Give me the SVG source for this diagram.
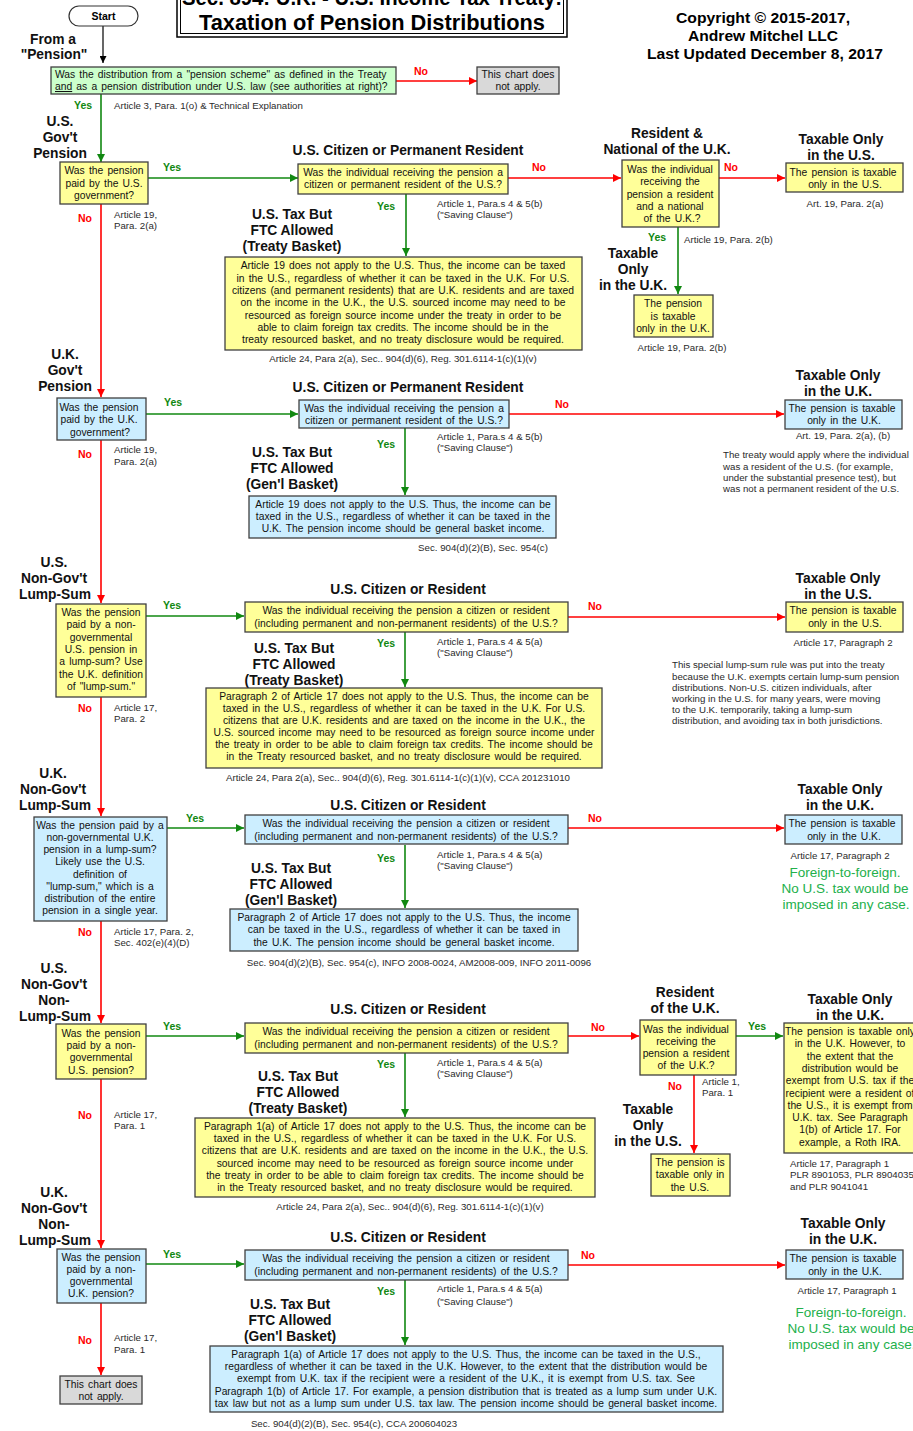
<svg xmlns="http://www.w3.org/2000/svg" width="913" height="1431" viewBox="0 0 913 1431">
<style>
text{font-family:"Liberation Sans",Arial,sans-serif}
.b{font-size:10.3px;word-spacing:1.3px;fill:#111;text-anchor:middle}
.bl{font-size:10.3px;word-spacing:1.3px;fill:#111}
.h{font-size:13.8px;font-weight:bold;fill:#111;text-anchor:middle}
.n{font-size:9.7px;fill:#2a2a2a}
.nc{font-size:9.7px;fill:#2a2a2a;text-anchor:middle}
.yes{font-size:10.5px;font-weight:bold;fill:#118811}
.no{font-size:10.5px;font-weight:bold;fill:#ff0000}
.ff{font-size:13.5px;fill:#22b04b;text-anchor:middle}
.yb{fill:#ffff99;stroke:#404040;stroke-width:1.3}
.bb{fill:#cceeff;stroke:#404040;stroke-width:1.3}
.gb{fill:#ccffcc;stroke:#404040;stroke-width:1.3}
.xb{fill:#d9d9d9;stroke:#404040;stroke-width:1.3}
.gl{stroke:#118811;stroke-width:1.6;fill:none;marker-end:url(#ag)}
.rl{stroke:#ff0000;stroke-width:1.6;fill:none;marker-end:url(#ar)}
.kl{stroke:#000;stroke-width:1.2;fill:none;marker-end:url(#ak)}
</style>
<defs>
<marker id="ag" viewBox="0 0 10 10" refX="10" refY="5" markerWidth="8" markerHeight="8" markerUnits="userSpaceOnUse" orient="auto"><path d="M0,0 L10,5 L0,10 z" fill="#118811"/></marker>
<marker id="ar" viewBox="0 0 10 10" refX="10" refY="5" markerWidth="8" markerHeight="8" markerUnits="userSpaceOnUse" orient="auto"><path d="M0,0 L10,5 L0,10 z" fill="#ff0000"/></marker>
<marker id="ak" viewBox="0 0 10 10" refX="10" refY="5" markerWidth="7" markerHeight="7" markerUnits="userSpaceOnUse" orient="auto"><path d="M0,0 L10,5 L0,10 z" fill="#000"/></marker>
</defs>
<rect width="913" height="1431" fill="#fff"/>

<g id="title">
<rect x="177" y="-10" width="390" height="47" fill="#fff" stroke="#000" stroke-width="1.5"/>
<rect x="180.5" y="-10" width="383" height="43.5" fill="none" stroke="#000" stroke-width="1"/>
<text x="372" y="5" text-anchor="middle" font-size="22" font-weight="bold" textLength="380" lengthAdjust="spacingAndGlyphs">Sec. 894: U.K. - U.S. Income Tax Treaty:</text>
<text x="372" y="30" text-anchor="middle" font-size="22" font-weight="bold" textLength="346" lengthAdjust="spacingAndGlyphs">Taxation of Pension Distributions</text>
</g>
<g id="copyright">
<text x="763" y="23" text-anchor="middle" font-size="14.5" font-weight="bold" textLength="174" lengthAdjust="spacingAndGlyphs">Copyright © 2015-2017,</text>
<text x="763" y="41" text-anchor="middle" font-size="14.5" font-weight="bold" textLength="150" lengthAdjust="spacingAndGlyphs">Andrew Mitchel LLC</text>
<text x="765" y="59" text-anchor="middle" font-size="14.5" font-weight="bold" textLength="236" lengthAdjust="spacingAndGlyphs">Last Updated December 8, 2017</text>
</g>

<g id="connectors">
<line class="kl" x1="103" y1="26" x2="103" y2="63"/>
<line class="rl" x1="396" y1="81" x2="477" y2="81"/>
<line class="gl" x1="101" y1="94" x2="101" y2="162"/>
<line class="gl" x1="148" y1="178" x2="298" y2="178"/>
<line class="rl" x1="508" y1="178" x2="621" y2="178"/>
<line class="rl" x1="719" y1="178" x2="785" y2="178"/>
<line class="gl" x1="678" y1="227" x2="678" y2="294"/>
<line class="gl" x1="406" y1="194" x2="406" y2="256"/>
<line class="rl" x1="101" y1="204" x2="101" y2="397"/>
<line class="gl" x1="146" y1="414" x2="298" y2="414"/>
<line class="rl" x1="509" y1="414" x2="784" y2="414"/>
<line class="gl" x1="405" y1="428" x2="405" y2="495"/>
<line class="rl" x1="101" y1="440" x2="101" y2="603"/>
<line class="gl" x1="146" y1="616" x2="244" y2="616"/>
<line class="rl" x1="568" y1="617" x2="785" y2="617"/>
<line class="gl" x1="405" y1="632" x2="405" y2="687"/>
<line class="rl" x1="101" y1="697" x2="101" y2="816"/>
<line class="gl" x1="167" y1="828" x2="244" y2="828"/>
<line class="rl" x1="568" y1="828" x2="784" y2="828"/>
<line class="gl" x1="405" y1="845" x2="405" y2="908"/>
<line class="rl" x1="101" y1="921" x2="101" y2="1023"/>
<line class="gl" x1="146" y1="1036" x2="244" y2="1036"/>
<line class="rl" x1="568" y1="1036" x2="639" y2="1036"/>
<line class="gl" x1="736" y1="1036" x2="783" y2="1036"/>
<line class="rl" x1="694" y1="1075" x2="694" y2="1153"/>
<line class="gl" x1="405" y1="1053" x2="405" y2="1117"/>
<line class="rl" x1="101" y1="1079" x2="101" y2="1248"/>
<line class="gl" x1="146" y1="1264" x2="244" y2="1264"/>
<line class="rl" x1="568" y1="1265" x2="785" y2="1265"/>
<line class="gl" x1="405" y1="1280" x2="405" y2="1345"/>
<line class="rl" x1="101" y1="1303" x2="101" y2="1375"/>
</g>

<g id="labels">
<text class="no" x="414" y="75">No</text>
<text class="yes" x="74" y="109">Yes</text>
<text class="n" x="114" y="109">Article 3, Para. 1(o) &amp; Technical Explanation</text>
<text class="yes" x="163" y="171">Yes</text>
<text class="no" x="532" y="171">No</text>
<text class="no" x="724" y="171">No</text>
<text class="yes" x="648" y="241">Yes</text>
<text class="n" x="684" y="243">Article 19, Para. 2(b)</text>
<text class="yes" x="377" y="210">Yes</text>
<text class="n" x="437" y="207">Article 1, Para.s 4 &amp; 5(b)</text>
<text class="n" x="437" y="218">("Saving Clause")</text>
<text class="no" x="78" y="222">No</text>
<text class="n" x="114" y="218">Article 19,</text>
<text class="n" x="114" y="229">Para. 2(a)</text>
<text class="nc" x="403" y="362">Article 24, Para 2(a), Sec.. 904(d)(6), Reg. 301.6114-1(c)(1)(v)</text>
<text class="yes" x="164" y="406">Yes</text>
<text class="no" x="555" y="408">No</text>
<text class="no" x="78" y="458">No</text>
<text class="n" x="114" y="453">Article 19,</text>
<text class="n" x="114" y="465">Para. 2(a)</text>
<text class="yes" x="377" y="448">Yes</text>
<text class="n" x="437" y="440">Article 1, Para.s 4 &amp; 5(b)</text>
<text class="n" x="437" y="451">("Saving Clause")</text>
<text class="nc" x="483" y="551">Sec. 904(d)(2)(B), Sec. 954(c)</text>
<text class="yes" x="163" y="609">Yes</text>
<text class="no" x="588" y="610">No</text>
<text class="yes" x="377" y="647">Yes</text>
<text class="n" x="437" y="645">Article 1, Para.s 4 &amp; 5(a)</text>
<text class="n" x="437" y="656">("Saving Clause")</text>
<text class="nc" x="398" y="781">Article 24, Para 2(a), Sec.. 904(d)(6), Reg. 301.6114-1(c)(1)(v), CCA 201231010</text>
<text class="no" x="78" y="712">No</text>
<text class="n" x="114" y="711">Article 17,</text>
<text class="n" x="114" y="722">Para. 2</text>
<text class="yes" x="186" y="822">Yes</text>
<text class="no" x="588" y="822">No</text>
<text class="yes" x="377" y="862">Yes</text>
<text class="n" x="437" y="858">Article 1, Para.s 4 &amp; 5(a)</text>
<text class="n" x="437" y="869">("Saving Clause")</text>
<text class="nc" x="419" y="966">Sec. 904(d)(2)(B), Sec. 954(c), INFO 2008-0024, AM2008-009, INFO 2011-0096</text>
<text class="no" x="78" y="936">No</text>
<text class="n" x="114" y="935">Article 17, Para. 2,</text>
<text class="n" x="114" y="946">Sec. 402(e)(4)(D)</text>
<text class="yes" x="163" y="1030">Yes</text>
<text class="no" x="591" y="1031">No</text>
<text class="yes" x="748" y="1030">Yes</text>
<text class="no" x="668" y="1090">No</text>
<text class="n" x="702" y="1085">Article 1,</text>
<text class="n" x="702" y="1096">Para. 1</text>
<text class="yes" x="377" y="1068">Yes</text>
<text class="n" x="437" y="1066">Article 1, Para.s 4 &amp; 5(a)</text>
<text class="n" x="437" y="1077">("Saving Clause")</text>
<text class="nc" x="410" y="1210">Article 24, Para 2(a), Sec.. 904(d)(6), Reg. 301.6114-1(c)(1)(v)</text>
<text class="no" x="78" y="1119">No</text>
<text class="n" x="114" y="1118">Article 17,</text>
<text class="n" x="114" y="1129">Para. 1</text>
<text class="yes" x="163" y="1258">Yes</text>
<text class="no" x="581" y="1259">No</text>
<text class="yes" x="377" y="1295">Yes</text>
<text class="n" x="437" y="1292">Article 1, Para.s 4 &amp; 5(a)</text>
<text class="n" x="437" y="1305">("Saving Clause")</text>
<text class="nc" x="354" y="1427">Sec. 904(d)(2)(B), Sec. 954(c), CCA 200604023</text>
<text class="no" x="78" y="1344">No</text>
<text class="n" x="114" y="1341">Article 17,</text>
<text class="n" x="114" y="1353">Para. 1</text>
</g>

<g id="start">
<rect x="69" y="6" width="69" height="20" rx="10" fill="#fff" stroke="#333" stroke-width="1.2"/>
<text x="103.5" y="20" text-anchor="middle" font-size="10.5" font-weight="bold">Start</text>
<text class="h" x="53" y="44">From a</text>
<text class="h" x="54" y="59">"Pension"</text>
</g>

<g id="q-pension-scheme">
<rect class="gb" x="51" y="67" width="345" height="27"/>
<text class="bl" x="55" y="78">Was the distribution from a "pension scheme" as defined in the Treaty</text>
<text class="bl" x="55" y="90"><tspan text-decoration="underline">and</tspan> as a pension distribution under U.S. law (see authorities at right)?</text>
</g>
<g id="na-1">
<rect class="xb" x="477" y="67" width="82" height="27"/>
<text class="b" x="518" y="78">This chart does</text>
<text class="b" x="518" y="90">not apply.</text>
</g>

<g id="q-us-gov">
<text class="h" x="60" y="126">U.S.</text>
<text class="h" x="60" y="142">Gov't</text>
<text class="h" x="60" y="158">Pension</text>
<rect class="yb" x="60" y="162" width="88" height="42"/>
<text class="b" x="104" y="174">Was the pension</text>
<text class="b" x="104" y="187">paid by the U.S.</text>
<text class="b" x="104" y="199">government?</text>
</g>
<g id="q-uscit-1">
<text class="h" x="408" y="155">U.S. Citizen or Permanent Resident</text>
<rect class="yb" x="298" y="164" width="210" height="30"/>
<text class="b" x="403" y="176">Was the individual receiving the pension a</text>
<text class="b" x="403" y="188">citizen or permanent resident of the U.S.?</text>
</g>
<g id="q-uk-resnat">
<text class="h" x="667" y="138">Resident &amp;</text>
<text class="h" x="667" y="154">National of the U.K.</text>
<rect class="yb" x="622" y="160" width="97" height="67"/>
<text class="b" x="670" y="173">Was the individual</text>
<text class="b" x="670" y="185">receiving the</text>
<text class="b" x="670" y="198">pension a resident</text>
<text class="b" x="670" y="210">and a national</text>
<text class="b" x="672" y="222">of the U.K.?</text>
</g>
<g id="r-us-only-1">
<text class="h" x="841" y="144">Taxable Only</text>
<text class="h" x="841" y="160">in the U.S.</text>
<rect class="yb" x="786" y="163" width="117" height="29"/>
<text class="b" x="843" y="176">The pension is taxable</text>
<text class="b" x="845" y="188">only in the U.S.</text>
<text class="nc" x="845" y="207">Art. 19, Para. 2(a)</text>
</g>
<g id="r-uk-only-1">
<text class="h" x="633" y="258">Taxable</text>
<text class="h" x="633" y="274">Only</text>
<text class="h" x="633" y="290">in the U.K.</text>
<rect class="yb" x="634" y="295" width="79" height="42"/>
<text class="b" x="673" y="307">The pension</text>
<text class="b" x="673" y="320">is taxable</text>
<text class="b" x="673" y="332">only in the U.K.</text>
<text class="nc" x="682" y="351">Article 19, Para. 2(b)</text>
</g>
<g id="r-ftc-1">
<text class="h" x="292" y="219">U.S. Tax But</text>
<text class="h" x="292" y="235">FTC Allowed</text>
<text class="h" x="292" y="251">(Treaty Basket)</text>
<rect class="yb" x="225" y="257" width="357" height="93"/>
<text class="b" x="403" y="269">Article 19 does not apply to the U.S.  Thus, the income can be taxed</text>
<text class="b" x="403" y="282">in the U.S., regardless of whether it can be taxed in the U.K.  For U.S.</text>
<text class="b" x="403" y="294">citizens (and permanent residents) that are U.K. residents and are taxed</text>
<text class="b" x="403" y="306">on the income in the U.K., the U.S. sourced income may need to be</text>
<text class="b" x="403" y="319">resourced as foreign source income under the treaty in order to be</text>
<text class="b" x="403" y="331">able to claim foreign tax credits.  The income should be in the</text>
<text class="b" x="403" y="343">treaty resourced basket, and no treaty disclosure would be required.</text>
</g>

<g id="q-uk-gov">
<text class="h" x="65" y="359">U.K.</text>
<text class="h" x="65" y="375">Gov't</text>
<text class="h" x="65" y="391">Pension</text>
<rect class="bb" x="57" y="398" width="89" height="42"/>
<text class="b" x="99" y="411">Was the pension</text>
<text class="b" x="99" y="423">paid by the U.K.</text>
<text class="b" x="100" y="436">government?</text>
</g>
<g id="q-uscit-2">
<text class="h" x="408" y="392">U.S. Citizen or Permanent Resident</text>
<rect class="bb" x="299" y="400" width="210" height="28"/>
<text class="b" x="404" y="412">Was the individual receiving the pension a</text>
<text class="b" x="404" y="424">citizen or permanent resident of the U.S.?</text>
</g>
<g id="r-uk-only-2">
<text class="h" x="838" y="380">Taxable Only</text>
<text class="h" x="838" y="396">in the U.K.</text>
<rect class="bb" x="785" y="400" width="117" height="29"/>
<text class="b" x="842" y="412">The pension is taxable</text>
<text class="b" x="844" y="424">only in the U.K.</text>
<text class="nc" x="843" y="439">Art. 19, Para. 2(a), (b)</text>
<text class="n" x="723" y="458">The treaty would apply where the individual</text>
<text class="n" x="723" y="470">was a resident of the U.S. (for example,</text>
<text class="n" x="723" y="481">under the substantial presence test), but</text>
<text class="n" x="723" y="492">was not a permanent resident of the U.S.</text>
</g>
<g id="r-ftc-2">
<text class="h" x="292" y="457">U.S. Tax But</text>
<text class="h" x="292" y="473">FTC Allowed</text>
<text class="h" x="292" y="489">(Gen'l Basket)</text>
<rect class="bb" x="249" y="496" width="307" height="42"/>
<text class="b" x="403" y="508">Article 19 does not apply to the U.S.  Thus, the income can be</text>
<text class="b" x="403" y="520">taxed in the U.S., regardless of whether it can be taxed in the</text>
<text class="b" x="403" y="532">U.K.  The pension income should be general basket income.</text>
</g>

<g id="q-us-lump">
<text class="h" x="54" y="567">U.S.</text>
<text class="h" x="54" y="583">Non-Gov't</text>
<text class="h" x="55" y="599">Lump-Sum</text>
<rect class="yb" x="56" y="604" width="90" height="93"/>
<text class="b" x="101" y="616">Was the pension</text>
<text class="b" x="101" y="628">paid by a non-</text>
<text class="b" x="101" y="641">governmental</text>
<text class="b" x="101" y="653">U.S. pension in</text>
<text class="b" x="101" y="665">a lump-sum? Use</text>
<text class="b" x="101" y="678">the U.K. definition</text>
<text class="b" x="101" y="690">of "lump-sum."</text>
</g>
<g id="q-uscit-3">
<text class="h" x="408" y="594">U.S. Citizen or Resident</text>
<rect class="yb" x="245" y="602" width="323" height="30"/>
<text class="b" x="406" y="614">Was the individual receiving the pension a citizen or resident</text>
<text class="b" x="406" y="627">(including permanent and non-permanent residents) of the U.S.?</text>
</g>
<g id="r-us-only-3">
<text class="h" x="838" y="583">Taxable Only</text>
<text class="h" x="838" y="599">in the U.S.</text>
<rect class="yb" x="786" y="602" width="117" height="30"/>
<text class="b" x="843" y="614">The pension is taxable</text>
<text class="b" x="845" y="627">only in the U.S.</text>
<text class="nc" x="843" y="646">Article 17, Paragraph 2</text>
<text class="n" x="672" y="668">This special lump-sum rule was put into the treaty</text>
<text class="n" x="672" y="680">because the U.K. exempts certain lump-sum pension</text>
<text class="n" x="672" y="691">distributions.  Non-U.S. citizen individuals, after</text>
<text class="n" x="672" y="702">working in the U.S. for many years, were moving</text>
<text class="n" x="672" y="713">to the U.K. temporarily, taking a lump-sum</text>
<text class="n" x="672" y="724">distribution, and avoiding tax in both jurisdictions.</text>
</g>
<g id="r-ftc-3">
<text class="h" x="294" y="653">U.S. Tax But</text>
<text class="h" x="294" y="669">FTC Allowed</text>
<text class="h" x="294" y="685">(Treaty Basket)</text>
<rect class="yb" x="206" y="688" width="396" height="80"/>
<text class="b" x="404" y="700">Paragraph 2 of Article 17 does not apply to the U.S.  Thus, the income can be</text>
<text class="b" x="404" y="712">taxed in the U.S., regardless of whether it can be taxed in the U.K.  For U.S.</text>
<text class="b" x="404" y="724">citizens that are U.K. residents and are taxed on the income in the U.K., the</text>
<text class="b" x="404" y="736">U.S. sourced income may need to be resourced as foreign source income under</text>
<text class="b" x="404" y="748">the treaty in order to be able to claim foreign tax credits. The income should be</text>
<text class="b" x="404" y="760">in the Treaty resourced basket, and no treaty disclosure would be required.</text>
</g>

<g id="q-uk-lump">
<text class="h" x="53" y="778">U.K.</text>
<text class="h" x="53" y="794">Non-Gov't</text>
<text class="h" x="55" y="810">Lump-Sum</text>
<rect class="bb" x="34" y="817" width="133" height="104"/>
<text class="b" x="100" y="829">Was the pension paid by a</text>
<text class="b" x="100" y="841">non-governmental U.K.</text>
<text class="b" x="100" y="853">pension in a lump-sum?</text>
<text class="b" x="100" y="865">Likely use the U.S.</text>
<text class="b" x="100" y="878">definition of</text>
<text class="b" x="100" y="890">"lump-sum," which is a</text>
<text class="b" x="100" y="902">distribution of the entire</text>
<text class="b" x="100" y="914">pension in a single year.</text>
</g>
<g id="q-uscit-4">
<text class="h" x="408" y="810">U.S. Citizen or Resident</text>
<rect class="bb" x="245" y="815" width="323" height="29"/>
<text class="b" x="406" y="827">Was the individual receiving the pension a citizen or resident</text>
<text class="b" x="406" y="840">(including permanent and non-permanent residents) of the U.S.?</text>
</g>
<g id="r-uk-only-4">
<text class="h" x="840" y="794">Taxable Only</text>
<text class="h" x="840" y="810">in the U.K.</text>
<rect class="bb" x="785" y="815" width="117" height="29"/>
<text class="b" x="842" y="827">The pension is taxable</text>
<text class="b" x="844" y="840">only in the U.K.</text>
<text class="nc" x="840" y="859">Article 17, Paragraph 2</text>
<text class="ff" x="845" y="877">Foreign-to-foreign.</text>
<text class="ff" x="845" y="893">No U.S. tax would be</text>
<text class="ff" x="846" y="909">imposed in any case.</text>
</g>
<g id="r-ftc-4">
<text class="h" x="291" y="873">U.S. Tax But</text>
<text class="h" x="291" y="889">FTC Allowed</text>
<text class="h" x="291" y="905">(Gen'l Basket)</text>
<rect class="bb" x="230" y="909" width="348" height="42"/>
<text class="b" x="404" y="921">Paragraph 2 of Article 17 does not apply to the U.S.  Thus, the income</text>
<text class="b" x="404" y="933">can be taxed in the U.S., regardless of whether it can be taxed in</text>
<text class="b" x="404" y="946">the U.K.  The pension income should be general basket income.</text>
</g>

<g id="q-us-nonlump">
<text class="h" x="54" y="973">U.S.</text>
<text class="h" x="54" y="989">Non-Gov't</text>
<text class="h" x="54" y="1005">Non-</text>
<text class="h" x="55" y="1021">Lump-Sum</text>
<rect class="yb" x="56" y="1024" width="90" height="55"/>
<text class="b" x="101" y="1037">Was the pension</text>
<text class="b" x="101" y="1049">paid by a non-</text>
<text class="b" x="101" y="1061">governmental</text>
<text class="b" x="101" y="1074">U.S. pension?</text>
</g>
<g id="q-uscit-5">
<text class="h" x="408" y="1014">U.S. Citizen or Resident</text>
<rect class="yb" x="245" y="1023" width="323" height="30"/>
<text class="b" x="406" y="1035">Was the individual receiving the pension a citizen or resident</text>
<text class="b" x="406" y="1048">(including permanent and non-permanent residents) of the U.S.?</text>
</g>
<g id="q-uk-res">
<text class="h" x="685" y="997">Resident</text>
<text class="h" x="685" y="1013">of the U.K.</text>
<rect class="yb" x="640" y="1020" width="96" height="55"/>
<text class="b" x="686" y="1033">Was the individual</text>
<text class="b" x="686" y="1045">receiving the</text>
<text class="b" x="686" y="1057">pension a resident</text>
<text class="b" x="686" y="1069">of the U.K.?</text>
</g>
<g id="r-uk-only-5">
<text class="h" x="850" y="1004">Taxable Only</text>
<text class="h" x="850" y="1020">in the U.K.</text>
<rect class="yb" x="784" y="1023" width="135" height="130"/>
<text class="b" x="850" y="1035">The pension is taxable only</text>
<text class="b" x="850" y="1047">in the U.K.  However, to</text>
<text class="b" x="850" y="1060">the extent that the</text>
<text class="b" x="850" y="1072">distribution would be</text>
<text class="b" x="850" y="1084">exempt from U.S. tax if the</text>
<text class="b" x="850" y="1097">recipient were a resident of</text>
<text class="b" x="850" y="1109">the U.S., it is exempt from</text>
<text class="b" x="850" y="1121">U.K. tax.  See Paragraph</text>
<text class="b" x="850" y="1133">1(b) of Article 17.  For</text>
<text class="b" x="850" y="1146">example, a Roth IRA.</text>
<text class="n" x="790" y="1167">Article 17, Paragraph 1</text>
<text class="n" x="790" y="1178">PLR 8901053, PLR 8904035,</text>
<text class="n" x="790" y="1190">and PLR 9041041</text>
</g>
<g id="r-us-only-5">
<text class="h" x="648" y="1114">Taxable</text>
<text class="h" x="648" y="1130">Only</text>
<text class="h" x="648" y="1146">in the U.S.</text>
<rect class="yb" x="651" y="1154" width="79" height="42"/>
<text class="b" x="690" y="1166">The pension is</text>
<text class="b" x="690" y="1178">taxable only in</text>
<text class="b" x="690" y="1191">the U.S.</text>
</g>
<g id="r-ftc-5">
<text class="h" x="298" y="1081">U.S. Tax But</text>
<text class="h" x="298" y="1097">FTC Allowed</text>
<text class="h" x="298" y="1113">(Treaty Basket)</text>
<rect class="yb" x="195" y="1118" width="400" height="79"/>
<text class="b" x="395" y="1130">Paragraph 1(a) of Article 17 does not apply to the U.S.  Thus, the income can be</text>
<text class="b" x="395" y="1142">taxed in the U.S., regardless of whether it can be taxed in the U.K.  For U.S.</text>
<text class="b" x="395" y="1154">citizens that are U.K. residents and are taxed on the income in the U.K., the U.S.</text>
<text class="b" x="395" y="1167">sourced income may need to be resourced as foreign source income under</text>
<text class="b" x="395" y="1179">the treaty in order to be able to claim foreign tax credits.  The income should be</text>
<text class="b" x="395" y="1191">in the Treaty resourced basket, and no treaty disclosure would be required.</text>
</g>

<g id="q-uk-nonlump">
<text class="h" x="54" y="1197">U.K.</text>
<text class="h" x="54" y="1213">Non-Gov't</text>
<text class="h" x="54" y="1229">Non-</text>
<text class="h" x="55" y="1245">Lump-Sum</text>
<rect class="bb" x="57" y="1249" width="89" height="54"/>
<text class="b" x="101" y="1261">Was the pension</text>
<text class="b" x="101" y="1273">paid by a non-</text>
<text class="b" x="101" y="1285">governmental</text>
<text class="b" x="101" y="1297">U.K. pension?</text>
</g>
<g id="q-uscit-6">
<text class="h" x="408" y="1242">U.S. Citizen or Resident</text>
<rect class="bb" x="245" y="1250" width="323" height="30"/>
<text class="b" x="406" y="1262">Was the individual receiving the pension a citizen or resident</text>
<text class="b" x="406" y="1275">(including permanent and non-permanent residents) of the U.S.?</text>
</g>
<g id="r-uk-only-6">
<text class="h" x="843" y="1228">Taxable Only</text>
<text class="h" x="843" y="1244">in the U.K.</text>
<rect class="bb" x="786" y="1250" width="117" height="29"/>
<text class="b" x="843" y="1262">The pension is taxable</text>
<text class="b" x="845" y="1275">only in the U.K.</text>
<text class="nc" x="847" y="1294">Article 17, Paragraph 1</text>
<text class="ff" x="851" y="1317">Foreign-to-foreign.</text>
<text class="ff" x="851" y="1333">No U.S. tax would be</text>
<text class="ff" x="852" y="1349">imposed in any case.</text>
</g>
<g id="r-ftc-6">
<text class="h" x="290" y="1309">U.S. Tax But</text>
<text class="h" x="290" y="1325">FTC Allowed</text>
<text class="h" x="290" y="1341">(Gen'l Basket)</text>
<rect class="bb" x="210" y="1346" width="513" height="66"/>
<text class="b" x="466" y="1358">Paragraph 1(a) of Article 17 does not apply to the U.S.  Thus, the income can be taxed in the U.S.,</text>
<text class="b" x="466" y="1370">regardless of whether it can be taxed in the U.K.  However, to the extent that the distribution would be</text>
<text class="b" x="466" y="1382">exempt from U.K. tax if the recipient were a resident of the U.K., it is exempt from U.S. tax.  See</text>
<text class="b" x="466" y="1395">Paragraph 1(b) of Article 17.  For example, a pension distribution that is treated as a lump sum under U.K.</text>
<text class="b" x="466" y="1407">tax law but not as a lump sum under U.S. tax law.  The pension income should be general basket income.</text>
</g>
<g id="na-2">
<rect class="xb" x="60" y="1376" width="82" height="28"/>
<text class="b" x="101" y="1388">This chart does</text>
<text class="b" x="101" y="1400">not apply.</text>
</g>
</svg>
